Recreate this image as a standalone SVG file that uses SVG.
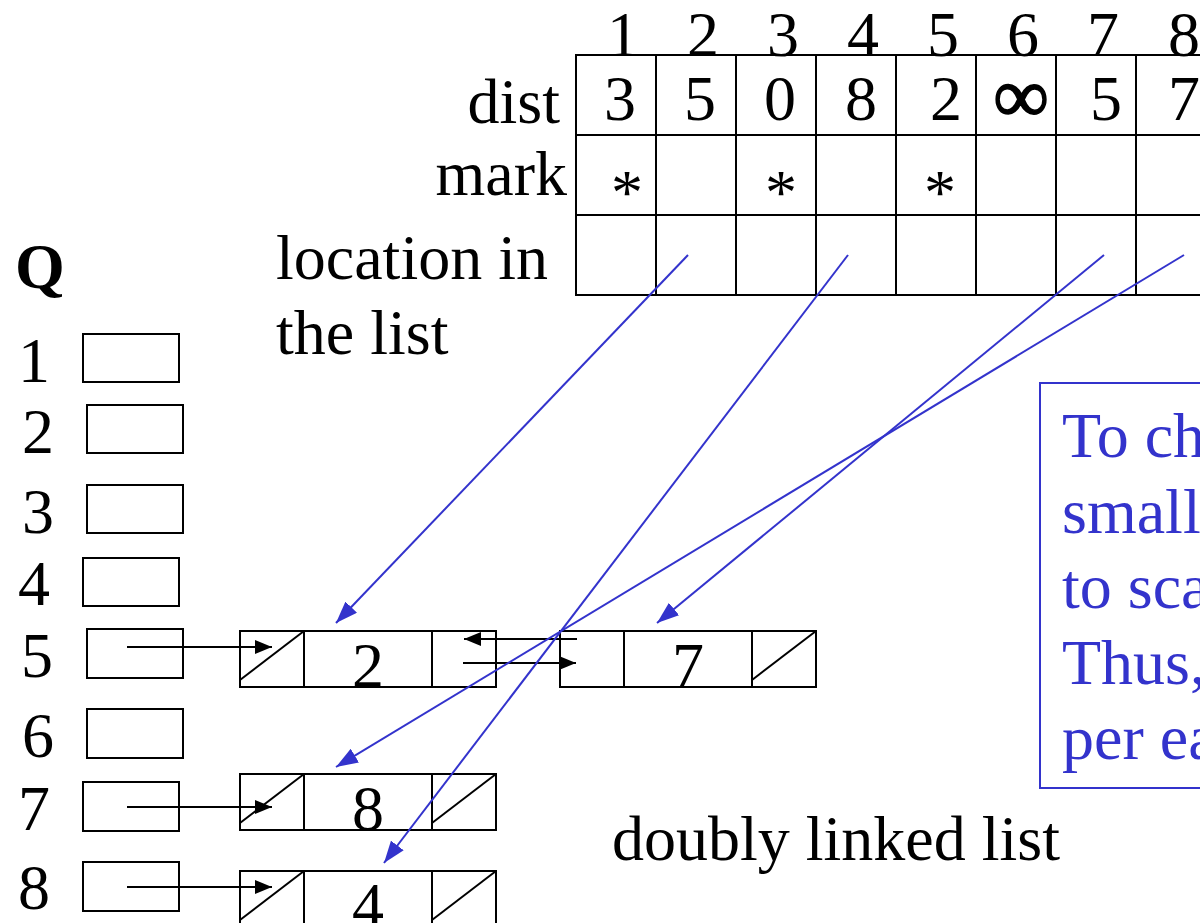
<svg xmlns="http://www.w3.org/2000/svg" width="1200" height="923" viewBox="0 0 1200 923">
<style>
text{font-family:"Liberation Serif","Times New Roman",serif;font-size:64px;fill:#000}
.mid{text-anchor:middle}
.end{text-anchor:end}
.blue{fill:#3333cc}
.inf{font-size:78px;stroke:#000;stroke-width:1.6}
.cell{fill:none;stroke:#000;stroke-width:2}
.qb{fill:#fff;stroke:#000;stroke-width:2}
.bl{stroke:#3333cc;stroke-width:2;fill:none}
.kl{stroke:#000;stroke-width:2;fill:none}
</style>
<defs>
<marker id="ab" markerUnits="userSpaceOnUse" markerWidth="22" markerHeight="16" refX="22" refY="8" orient="auto"><path d="M0,0 L22,8 L0,16 z" fill="#3333cc"/></marker>
<marker id="ak" markerUnits="userSpaceOnUse" markerWidth="17" markerHeight="14" refX="17" refY="7" orient="auto"><path d="M0,0 L17,7 L0,14 z" fill="#000"/></marker>
</defs>
<rect width="1200" height="923" fill="#fff"/>

<g id="table">
<g class="cell">
<rect x="576" y="55" width="700" height="240"/>
<line x1="576" y1="135" x2="1200" y2="135"/>
<line x1="576" y1="215" x2="1200" y2="215"/>
<line x1="656" y1="55" x2="656" y2="295"/>
<line x1="736" y1="55" x2="736" y2="295"/>
<line x1="816" y1="55" x2="816" y2="295"/>
<line x1="896" y1="55" x2="896" y2="295"/>
<line x1="976" y1="55" x2="976" y2="295"/>
<line x1="1056" y1="55" x2="1056" y2="295"/>
<line x1="1136" y1="55" x2="1136" y2="295"/>
</g>
<g class="mid">
<text x="623" y="56">1</text><text x="703" y="56">2</text><text x="783" y="56">3</text><text x="863" y="56">4</text>
<text x="943" y="56">5</text><text x="1023" y="56">6</text><text x="1103" y="56">7</text><text x="1184" y="56">8</text>
<text x="620" y="120">3</text><text x="700" y="120">5</text><text x="780" y="120">0</text><text x="861" y="120">8</text>
<text x="946" y="120">2</text><text class="inf" x="1021" y="122">∞</text><text x="1106" y="120">5</text><text x="1184" y="120">7</text>
<text x="627" y="214">*</text><text x="781" y="214">*</text><text x="940" y="214">*</text>
</g>
<text class="end" x="560" y="123">dist</text>
<text class="end" x="567" y="195">mark</text>
<text x="276" y="279">location in</text>
<text x="276" y="354">the list</text>
</g>

<g id="queue">
<text x="15" y="288" font-weight="bold">Q</text>
<text x="18" y="382">1</text><rect class="qb" x="83" y="334" width="96" height="48"/>
<text x="22" y="453">2</text><rect class="qb" x="87" y="405" width="96" height="48"/>
<text x="22" y="533">3</text><rect class="qb" x="87" y="485" width="96" height="48"/>
<text x="18" y="605">4</text><rect class="qb" x="83" y="558" width="96" height="48"/>
<text x="21" y="677">5</text><rect class="qb" x="87" y="629" width="96" height="49"/>
<text x="22" y="757">6</text><rect class="qb" x="87" y="709" width="96" height="49"/>
<text x="18" y="830">7</text><rect class="qb" x="83" y="782" width="96" height="49"/>
<text x="18" y="909">8</text><rect class="qb" x="83" y="862" width="96" height="49"/>
</g>

<g id="node2">
<rect class="cell" x="240" y="631" width="256" height="56"/>
<line class="cell" x1="304" y1="631" x2="304" y2="687"/>
<line class="cell" x1="432" y1="631" x2="432" y2="687"/>
<line class="cell" x1="240" y1="680" x2="304" y2="631"/>
<text class="mid" x="368" y="687">2</text>
</g>
<g id="node7">
<rect class="cell" x="560" y="631" width="256" height="56"/>
<line class="cell" x1="624" y1="631" x2="624" y2="687"/>
<line class="cell" x1="752" y1="631" x2="752" y2="687"/>
<line class="cell" x1="752" y1="680" x2="816" y2="631"/>
<text class="mid" x="688" y="687">7</text>
</g>
<g id="node8">
<rect class="cell" x="240" y="774" width="256" height="56"/>
<line class="cell" x1="304" y1="774" x2="304" y2="830"/>
<line class="cell" x1="432" y1="774" x2="432" y2="830"/>
<line class="cell" x1="240" y1="823" x2="304" y2="774"/>
<line class="cell" x1="432" y1="823" x2="496" y2="774"/>
<text class="mid" x="368" y="830">8</text>
</g>
<g id="node4">
<rect class="cell" x="240" y="871" width="256" height="56"/>
<line class="cell" x1="304" y1="871" x2="304" y2="927"/>
<line class="cell" x1="432" y1="871" x2="432" y2="927"/>
<line class="cell" x1="240" y1="920" x2="304" y2="871"/>
<line class="cell" x1="432" y1="920" x2="496" y2="871"/>
<text class="mid" x="368" y="927">4</text>
</g>

<g id="note">
<rect x="1040" y="383" width="200" height="405" fill="none" stroke="#3333cc" stroke-width="2"/>
<text class="blue" x="1062" y="457">To ch</text>
<text class="blue" x="1062" y="533">small</text>
<text class="blue" x="1062" y="608">to sca</text>
<text class="blue" x="1062" y="684">Thus,</text>
<text class="blue" x="1062" y="759">per ea</text>
</g>

<text id="caption" x="612" y="860">doubly linked list</text>

<g id="connectors">
<line class="kl" x1="127" y1="647" x2="272" y2="647" marker-end="url(#ak)"/>
<line class="kl" x1="127" y1="807" x2="272" y2="807" marker-end="url(#ak)"/>
<line class="kl" x1="127" y1="887" x2="272" y2="887" marker-end="url(#ak)"/>
<line class="kl" x1="577" y1="639" x2="464" y2="639" marker-end="url(#ak)"/>
<line class="kl" x1="463" y1="663" x2="576" y2="663" marker-end="url(#ak)"/>
<line class="bl" x1="688" y1="255" x2="336" y2="623" marker-end="url(#ab)"/>
<line class="bl" x1="848" y1="255" x2="384" y2="863" marker-end="url(#ab)"/>
<line class="bl" x1="1104" y1="255" x2="657" y2="623" marker-end="url(#ab)"/>
<line class="bl" x1="1184" y1="255" x2="336" y2="767" marker-end="url(#ab)"/>
</g>
</svg>
